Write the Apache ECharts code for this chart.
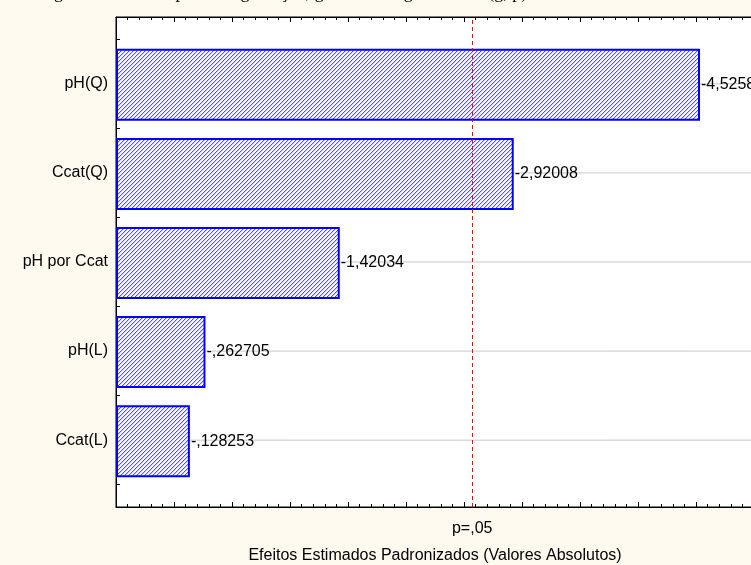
<!DOCTYPE html>
<html><head><meta charset="utf-8">
<script src="https://cdn.jsdelivr.net/npm/echarts@6/dist/echarts.min.js"></script>
<style>html,body{margin:0;padding:0;background:#fdf9ee;}#c{width:751px;height:565px;}</style>
</head><body><div id="c"></div>
<script>
// ---- data ----
const categories = ['pH(Q)', 'Ccat(Q)', 'pH por Ccat', 'pH(L)', 'Ccat(L)'];
const positions = [1, 2, 3, 4, 5];
const effects = [4.5258, 2.92008, 1.42034, 0.262705, 0.128253];
const effectLabels = ['-4,5258', '-2,92008', '-1,42034', '-,262705', '-,128253'];
const pLimit = 2.5706;
const pLabel = 'p=,05';
const axisTitle = 'Efeitos Estimados Padronizados (Valores Absolutos)';
const chartTitle = 'Diagrama de Pareto para a degradação; gráfico de significância (g, p)';

// ---- style ----
const FONT = '"Liberation Sans", Arial, sans-serif';
const xMin = -0.5, xMax = 5, yMin = 0.25, yMax = 5.75;

function hatch() {
  const c = document.createElement('canvas');
  c.width = 4; c.height = 4;
  const g = c.getContext('2d');
  g.fillStyle = '#ffffff'; g.fillRect(0, 0, 4, 4);
  for (let i = 0; i < 4; i++) {
    g.fillStyle = '#5252ff'; g.fillRect(i, 3 - i, 1, 1);
    g.fillStyle = '#cfcfff'; g.fillRect((i + 1) % 4, 3 - i, 1, 1);
  }
  return c;
}
const pattern = { image: hatch(), repeat: 'repeat' };

const barData = effects.map((v, i) => [v, positions[i]]);
const gridData = positions.map(p => [xMax, p]);

const chart = echarts.init(document.getElementById('c'), null, { renderer: 'canvas' });
chart.setOption({
  animation: false,
  backgroundColor: '#fdf9ee',
  graphic: [{
    type: 'text', left: 28, top: -16, silent: true,
    style: { text: chartTitle, font: '18px "Liberation Serif", "Times New Roman", serif', fill: '#000' }
  }],
  grid: { left: 116, top: 17, right: -3, bottom: 58, outerBoundsMode: 'none', containLabel: false,
          show: true, backgroundColor: '#ffffff', borderColor: '#000', borderWidth: 1 },
  xAxis: [{
    type: 'value', position: 'bottom', min: xMin, max: xMax, interval: 0.5,
    axisLine: { show: true, onZero: false, lineStyle: { color: '#000', width: 1 } },
    axisTick: { show: true, inside: true, length: 5, lineStyle: { color: '#000' } },
    minorTick: { show: true, splitNumber: 5, length: 3, lineStyle: { color: '#000' } },
    axisLabel: { show: false }, splitLine: { show: false },
    name: axisTitle, nameLocation: 'middle', nameGap: 41,
    nameTextStyle: { fontFamily: FONT, fontSize: 16, color: '#000' }
  }, {
    type: 'value', position: 'top', min: xMin, max: xMax, interval: 0.5,
    axisLine: { show: true, onZero: false, lineStyle: { color: '#000', width: 1 } },
    axisTick: { show: true, inside: true, length: 5, lineStyle: { color: '#000' } },
    minorTick: { show: true, splitNumber: 5, length: 3, lineStyle: { color: '#000' } },
    axisLabel: { show: false }, splitLine: { show: false }
  }],
  yAxis: {
    type: 'value', inverse: true, min: yMin, max: yMax, interval: 0.25,
    axisLine: { show: true, onZero: false, lineStyle: { color: '#000', width: 1 } },
    axisTick: { show: true, inside: true, length: 4, lineStyle: { color: '#000' } },
    splitLine: { show: false },
    axisLabel: {
      interval: 0, margin: 8, fontFamily: FONT, fontSize: 16, color: '#000',
      formatter: v => (Math.abs(v - Math.round(v)) < 1e-6 && Math.round(v) >= 1 && Math.round(v) <= categories.length) ? categories[Math.round(v) - 1] : ''
    }
  },
  series: [{
    type: 'custom', z: 1, silent: true,
    data: gridData,
    renderItem: (params, api) => {
      const s = api.coord([xMin, api.value(1)]);
      const e = api.coord([api.value(0), api.value(1)]);
      return { type: 'line', shape: { x1: s[0], y1: s[1], x2: e[0], y2: e[1] }, style: { stroke: '#c8c8c8', lineWidth: 1 } };
    }
  }, {
    type: 'line', data: [], z: 3, symbol: 'none',
    markLine: {
      silent: true, symbol: 'none',
      lineStyle: { color: '#ff0000', type: [4, 3], width: 1 },
      label: { show: true, position: 'start', formatter: pLabel, distance: 14, fontFamily: FONT, fontSize: 16, color: '#000' },
      data: [[{ coord: [pLimit, yMax] }, { coord: [pLimit, yMin] }]]
    }
  }, {
    type: 'custom', z: 2, silent: true, clip: false,
    data: barData,
    renderItem: (params, api) => {
      const v = api.value(0), p = api.value(1);
      const s = api.coord([xMin, p]);
      const e = api.coord([v, p]);
      const h = api.size([0, 1])[1] * 0.785;
      return {
        type: 'group', children: [
          { type: 'rect', shape: { x: s[0] + 1, y: s[1] - h / 2 + 1, width: e[0] - s[0] - 1, height: h },
            style: { fill: pattern, stroke: '#0000ff', lineWidth: 2 } },
          { type: 'text', style: { text: effectLabels[params.dataIndex], x: e[0] + 2, y: e[1] + 1, verticalAlign: 'middle', align: 'left',
            font: '16px "Liberation Sans", Arial, sans-serif', fill: '#000' } }
        ]
      };
    }
  }]
});
</script>
</body></html>
